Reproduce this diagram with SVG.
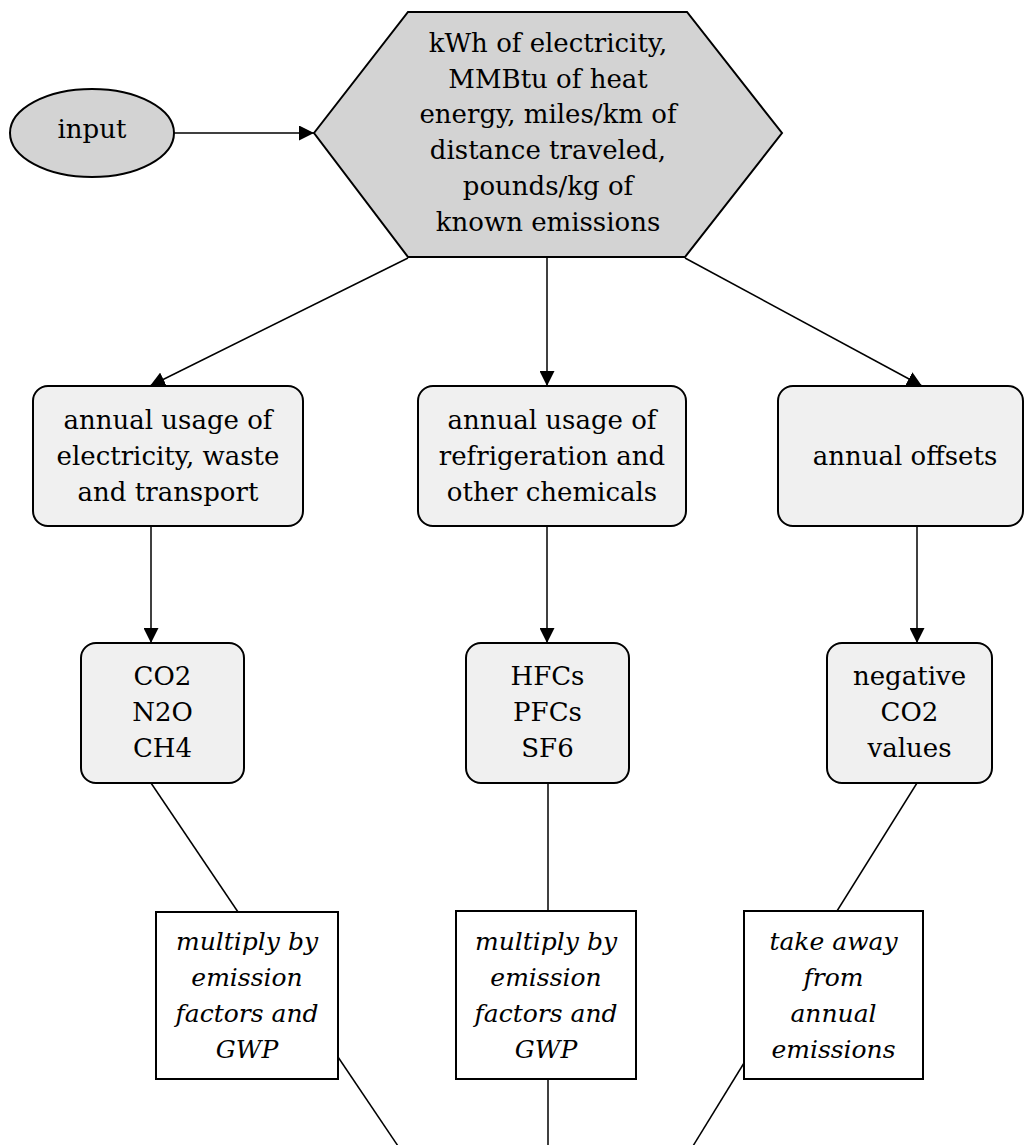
<svg xmlns="http://www.w3.org/2000/svg" width="1028" height="1145" viewBox="0 0 1028 1145" font-family="DejaVu Serif, serif">
<style>
text{font-size:26px;fill:#000;text-anchor:middle}
.it{font-style:italic;font-size:25px}
.edge{stroke:#000;stroke-width:1.5;fill:none}
.gray{fill:#d3d3d3;stroke:#000;stroke-width:2}
.light{fill:#f0f0f0;stroke:#000;stroke-width:2}
.white{fill:#fff;stroke:#000;stroke-width:2}
</style>
<defs>
<marker id="arr" markerUnits="userSpaceOnUse" markerWidth="15" markerHeight="15" refX="15" refY="7.5" orient="auto">
<path d="M0,0 L15,7.5 L0,15 z" fill="#000"/>
</marker>
</defs>
<rect width="1028" height="1145" fill="#fff"/>
<g id="connectors">
<line class="edge" x1="174" y1="133" x2="314" y2="133" marker-end="url(#arr)"/>
<line class="edge" x1="408" y1="258" x2="150" y2="386" marker-end="url(#arr)"/>
<line class="edge" x1="547" y1="258" x2="547" y2="386" marker-end="url(#arr)"/>
<line class="edge" x1="685" y1="258" x2="922" y2="386" marker-end="url(#arr)"/>
<line class="edge" x1="151" y1="526" x2="151" y2="643" marker-end="url(#arr)"/>
<line class="edge" x1="547" y1="526" x2="547" y2="643" marker-end="url(#arr)"/>
<line class="edge" x1="917" y1="526" x2="917" y2="643" marker-end="url(#arr)"/>
<line class="edge" x1="151" y1="783" x2="238" y2="912"/>
<line class="edge" x1="548" y1="783" x2="548" y2="911"/>
<line class="edge" x1="917" y1="783" x2="837" y2="911"/>
<line class="edge" x1="338" y1="1057" x2="398" y2="1146"/>
<line class="edge" x1="548" y1="1079" x2="548" y2="1146"/>
<line class="edge" x1="744" y1="1063" x2="693" y2="1146"/>
</g>
<g id="input">
<ellipse class="gray" cx="92" cy="133" rx="82" ry="44"/>
<text x="92" y="138">input</text>
</g>
<g id="units">
<polygon class="gray" points="314,133 408,12 687,12 782,133 685,257 408,257"/>
<text x="548" y="52">kWh of electricity,</text>
<text x="548" y="87.7">MMBtu of heat</text>
<text x="548" y="123.4">energy, miles/km of</text>
<text x="548" y="159.1">distance traveled,</text>
<text x="548" y="194.8">pounds/kg of</text>
<text x="548" y="230.5">known emissions</text>
</g>
<g id="usage1">
<rect class="light" x="33" y="386" width="270" height="140" rx="15"/>
<text x="168" y="429">annual usage of</text>
<text x="168" y="465">electricity, waste</text>
<text x="168" y="501">and transport</text>
</g>
<g id="usage2">
<rect class="light" x="418" y="386" width="268" height="140" rx="15"/>
<text x="552" y="429">annual usage of</text>
<text x="552" y="465">refrigeration and</text>
<text x="552" y="501">other chemicals</text>
</g>
<g id="offsets">
<rect class="light" x="778" y="386" width="245" height="140" rx="15"/>
<text x="905" y="465">annual offsets</text>
</g>
<g id="gases1">
<rect class="light" x="81" y="643" width="163" height="140" rx="15"/>
<text x="162.5" y="685">CO2</text>
<text x="162.5" y="721">N2O</text>
<text x="162.5" y="757">CH4</text>
</g>
<g id="gases2">
<rect class="light" x="466" y="643" width="163" height="140" rx="15"/>
<text x="547.5" y="685">HFCs</text>
<text x="547.5" y="721">PFCs</text>
<text x="547.5" y="757">SF6</text>
</g>
<g id="negative">
<rect class="light" x="827" y="643" width="165" height="140" rx="15"/>
<text x="909.5" y="685">negative</text>
<text x="909.5" y="721">CO2</text>
<text x="909.5" y="757">values</text>
</g>
<g id="multiply1">
<rect class="white" x="156" y="912" width="182" height="167"/>
<text class="it" x="247" y="950">multiply by</text>
<text class="it" x="247" y="986">emission</text>
<text class="it" x="247" y="1022">factors and</text>
<text class="it" x="247" y="1058">GWP</text>
</g>
<g id="multiply2">
<rect class="white" x="456" y="911" width="180" height="168"/>
<text class="it" x="546" y="950">multiply by</text>
<text class="it" x="546" y="986">emission</text>
<text class="it" x="546" y="1022">factors and</text>
<text class="it" x="546" y="1058">GWP</text>
</g>
<g id="takeaway">
<rect class="white" x="744" y="911" width="179" height="168"/>
<text class="it" x="833.5" y="950">take away</text>
<text class="it" x="833.5" y="986">from</text>
<text class="it" x="833.5" y="1022">annual</text>
<text class="it" x="833.5" y="1058">emissions</text>
</g>
</svg>
